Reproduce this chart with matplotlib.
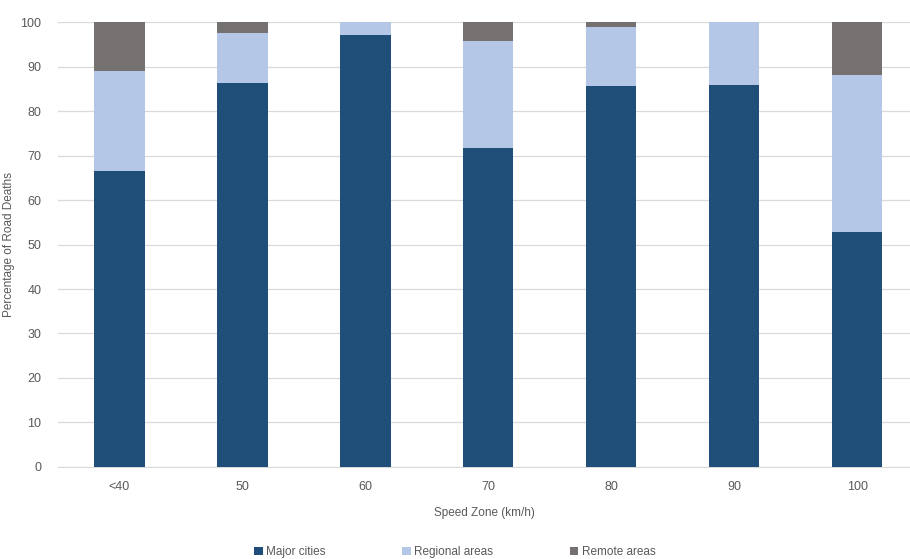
import matplotlib
matplotlib.use("Agg")
import matplotlib.pyplot as plt
import numpy as np

categories = ["<40", "50", "60", "70", "80", "90", "100"]
major_cities = [66.6, 86.2, 97.0, 71.8, 85.6, 85.8, 52.9]
regional_areas = [22.4, 11.3, 3.0, 24.0, 13.2, 14.2, 35.1]
remote_areas = [11.0, 2.5, 0.0, 4.2, 1.2, 0.0, 12.0]

plt.rcParams['font.family'] = ['Liberation Sans', 'DejaVu Sans']

fig = plt.figure(figsize=(9.1, 5.59), dpi=100)
ax = fig.add_axes([0.0637, 0.1646, 0.9363, 0.796])

x = np.arange(len(categories))
w = 0.41
c1, c2, c3 = "#1F4E79", "#B4C7E7", "#767171"
major = np.array(major_cities)
reg = np.array(regional_areas)
rem = np.array(remote_areas)
ax.bar(x, major, w, color=c1, label="Major cities", zorder=3)
ax.bar(x, reg, w, bottom=major, color=c2, label="Regional areas", zorder=3)
ax.bar(x, rem, w, bottom=major + reg, color=c3, label="Remote areas", zorder=3)

ax.set_ylim(0, 100)
ax.set_xlim(-0.5, 6.43)
ax.set_yticks(np.arange(0, 101, 10))
ax.set_xticks(x)
ax.set_xticklabels(categories)
ax.yaxis.grid(True, color="#D9D9D9", linewidth=0.9, zorder=0)
for s in ["top", "right", "left"]:
    ax.spines[s].set_visible(False)
ax.spines["bottom"].set_color("#D9D9D9")
ax.tick_params(axis="both", length=0, colors="#595959", labelsize=9)
ax.tick_params(axis="x", pad=10)
ax.tick_params(axis="y", pad=12)

ax.set_ylabel("Percentage of Road Deaths", fontsize=8.5, color="#595959")
ax.yaxis.set_label_coords(-0.051, 0.5)
ax.set_xlabel("Speed Zone (km/h)", fontsize=8.5, color="#595959", labelpad=10)

leg = fig.legend(loc="lower center", bbox_to_anchor=(0.5, -0.017), ncol=3, frameon=False,
                 fontsize=8.5, handlelength=0.7, handleheight=0.7, handletextpad=0.3,
                 columnspacing=6.5)
for t in leg.get_texts():
    t.set_color("#595959")

fig.savefig("out.png", dpi=100)
